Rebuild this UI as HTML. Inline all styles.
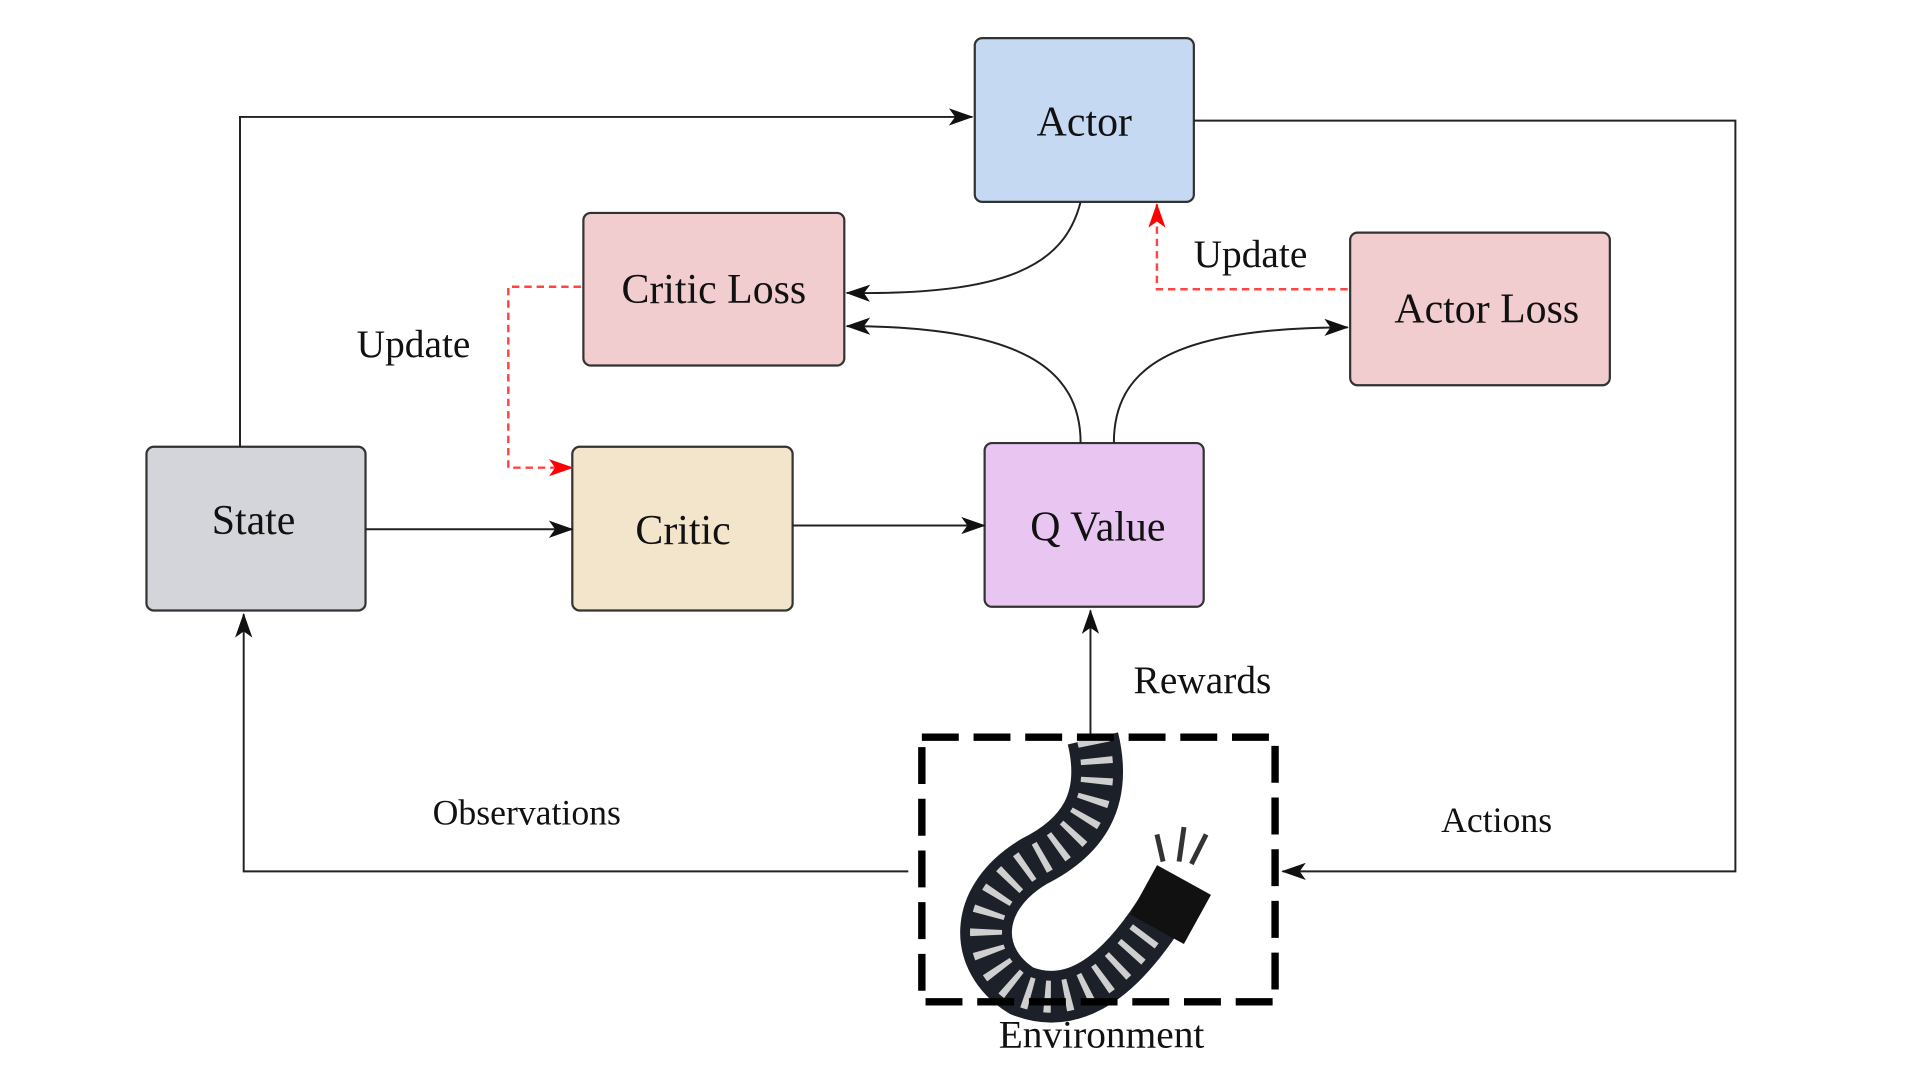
<!DOCTYPE html>
<html><head><meta charset="utf-8"><style>
html,body{margin:0;padding:0;background:#fff;}
svg{display:block;}
text{font-family:"Liberation Serif",serif;fill:#111;}
</style></head><body>
<svg width="1920" height="1080" viewBox="0 0 1560 877.5" preserveAspectRatio="none" xmlns="http://www.w3.org/2000/svg">
<defs>
<marker id="a" viewBox="0 0 20 14" refX="19" refY="7" markerWidth="20" markerHeight="14" markerUnits="userSpaceOnUse" orient="auto">
<path d="M0,0 L20,7 L0,14 L5,7 Z" fill="#111"/></marker>
<marker id="r" viewBox="0 0 20 14" refX="19" refY="7" markerWidth="20" markerHeight="14" markerUnits="userSpaceOnUse" orient="auto">
<path d="M0,0 L20,7 L0,14 L5,7 Z" fill="#f00"/></marker>
</defs>
<g stroke="#333" stroke-width="1.8">
<rect x="792" y="31" width="178" height="133" rx="6" fill="#c5d9f3"/>
<rect x="474" y="173" width="212" height="124" rx="6" fill="#f2cdd0"/>
<rect x="1097" y="189" width="211" height="124" rx="6" fill="#f2cdd0"/>
<rect x="119" y="363" width="178" height="133" rx="6" fill="#d4d5da"/>
<rect x="465" y="363" width="179" height="133" rx="6" fill="#f3e5cc"/>
<rect x="800" y="360" width="178" height="133" rx="6" fill="#e9c6f1"/>
</g>
<g stroke="#222" stroke-width="1.6" fill="none">
<path d="M195,363 V95 H790" marker-end="url(#a)"/>
<path d="M970,98 H1410 V708 H1042" marker-end="url(#a)"/>
<path d="M738,708 H198 V499" marker-end="url(#a)"/>
<path d="M886,598 V496" marker-end="url(#a)"/>
<path d="M297,430 H465" marker-end="url(#a)"/>
<path d="M644,427 H800" marker-end="url(#a)"/>
<path d="M878,164 C865,215 820,240 688,238" marker-end="url(#a)"/>
<path d="M878,360 C878,300 830,265 688,265" marker-end="url(#a)"/>
<path d="M905,360 C905,300 950,266 1095,266" marker-end="url(#a)"/>
</g>
<g stroke="#f44" stroke-width="2" fill="none" stroke-dasharray="6,4">
<path d="M472,233 H413 V380 H465" marker-end="url(#r)"/>
<path d="M1095,235 H940 V166" marker-end="url(#r)"/>
</g>
<!-- snake -->
<g fill="none" stroke-linecap="butt">
<path d="M888,600 C900,650 880,680 840,700 C790,730 790,780 830,805 C880,825 920,780 950,730" stroke="#1c2028" stroke-width="42"/>
<path d="M888,600 C900,650 880,680 840,700 C790,730 790,780 830,805 C880,825 920,780 950,730" stroke="#cfcfcf" stroke-width="26" stroke-dasharray="5,11"/>
<path d="M940,755 L962,715" stroke="#111" stroke-width="50"/>
<path d="M945,700 L940,678 M968,702 L980,678 M958,700 L962,672" stroke="#333" stroke-width="4"/>
</g>
<rect x="749" y="599" width="287" height="215" fill="none" stroke="#000" stroke-width="6" stroke-dasharray="30,12"/>
<g font-size="34" text-anchor="middle">
<text x="881" y="110">Actor</text>
<text x="580" y="246">Critic Loss</text>
<text x="1208" y="262">Actor Loss</text>
<text x="206" y="434">State</text>
<text x="555" y="442">Critic</text>
<text x="892" y="439">Q Value</text>
</g>
<g font-size="32" text-anchor="middle">
<text x="336" y="290">Update</text>
<text x="1016" y="217">Update</text>
<text x="977" y="563">Rewards</text>
<text x="895" y="851">Environment</text>
</g>
<g font-size="29" text-anchor="middle">
<text x="428" y="670">Observations</text>
<text x="1216" y="676">Actions</text>
</g>
</svg>
</body></html>
